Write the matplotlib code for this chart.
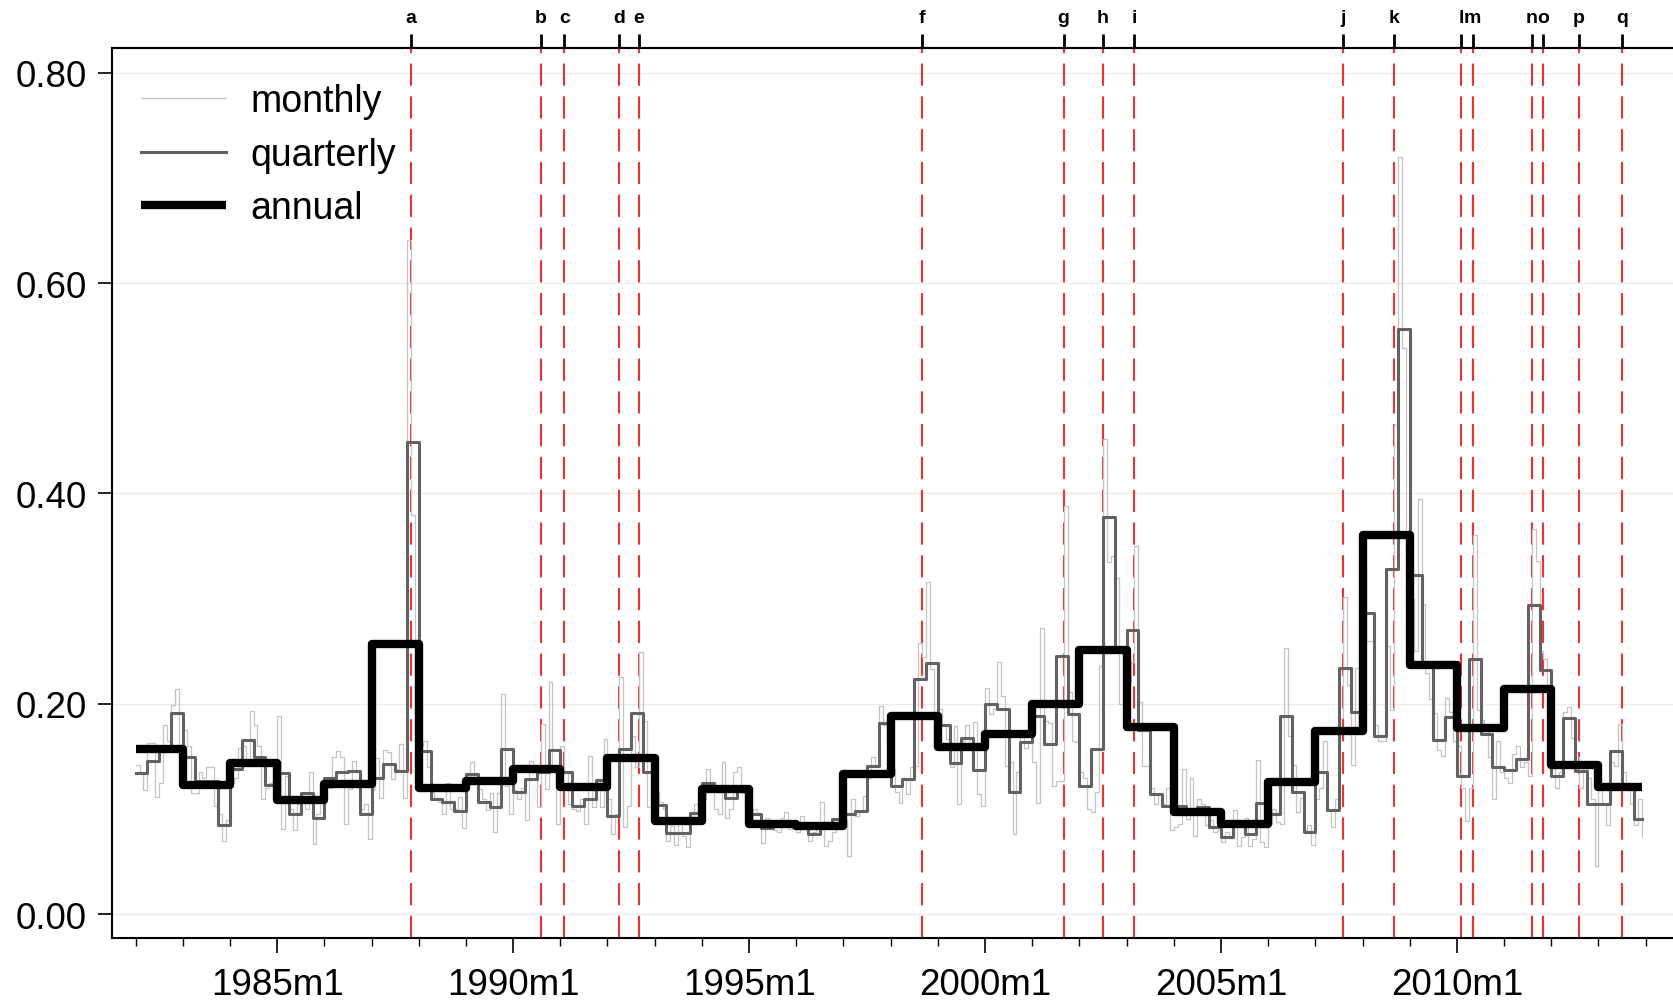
import numpy as np
import matplotlib
matplotlib.use("Agg")
import matplotlib.pyplot as plt

plt.rcParams['font.family'] = ['Liberation Sans', 'DejaVu Sans']

# ---------------- data ----------------
start_year = 1982

annual = [0.157, 0.123, 0.144, 0.109, 0.124, 0.257, 0.120, 0.127, 0.138, 0.121,
          0.149, 0.089, 0.119, 0.086, 0.084, 0.133, 0.189, 0.159, 0.171, 0.200,
          0.251, 0.178, 0.097, 0.086, 0.126, 0.174, 0.361, 0.237, 0.177, 0.214,
          0.142, 0.121]

quarterly = [
    0.134, 0.146, 0.157, 0.191,   # 1982
    0.150, 0.127, 0.127, 0.085,   # 1983
    0.138, 0.166, 0.150, 0.123,   # 1984
    0.134, 0.095, 0.115, 0.092,   # 1985
    0.130, 0.135, 0.136, 0.095,   # 1986
    0.130, 0.143, 0.136, 0.449,   # 1987
    0.155, 0.110, 0.107, 0.098,   # 1988
    0.133, 0.107, 0.102, 0.157,   # 1989
    0.116, 0.129, 0.135, 0.156,   # 1990
    0.135, 0.103, 0.110, 0.128,   # 1991
    0.094, 0.157, 0.191, 0.135,   # 1992
    0.104, 0.077, 0.077, 0.096,   # 1993
    0.125, 0.120, 0.111, 0.120,   # 1994
    0.095, 0.082, 0.086, 0.087,   # 1995
    0.084, 0.076, 0.084, 0.091,   # 1996
    0.095, 0.098, 0.141, 0.182,   # 1997
    0.122, 0.129, 0.224, 0.239,   # 1998
    0.180, 0.144, 0.168, 0.137,   # 1999
    0.200, 0.195, 0.116, 0.164,   # 2000
    0.189, 0.162, 0.246, 0.190,   # 2001
    0.122, 0.157, 0.378, 0.250,   # 2002
    0.270, 0.175, 0.114, 0.103,   # 2003
    0.103, 0.099, 0.102, 0.083,   # 2004
    0.074, 0.085, 0.076, 0.106,   # 2005
    0.095, 0.189, 0.116, 0.078,   # 2006
    0.135, 0.099, 0.234, 0.192,   # 2007
    0.286, 0.170, 0.328, 0.556,   # 2008
    0.323, 0.236, 0.166, 0.188,   # 2009
    0.132, 0.243, 0.171, 0.140,   # 2010
    0.137, 0.148, 0.294, 0.232,   # 2011
    0.132, 0.187, 0.136, 0.105,   # 2012
    0.105, 0.155, 0.122, 0.091,   # 2013
]

monthly = [
    0.142, 0.135, 0.118, 0.163, 0.163, 0.112, 0.125, 0.180, 0.165, 0.199, 0.214, 0.160,  # 1982
    0.175, 0.160, 0.115, 0.115, 0.135, 0.130, 0.140, 0.140, 0.103, 0.095, 0.070, 0.090,  # 1983
    0.125, 0.130, 0.158, 0.160, 0.145, 0.193, 0.180, 0.160, 0.110, 0.120, 0.125, 0.125,  # 1984
    0.189, 0.081, 0.132, 0.100, 0.080, 0.105, 0.110, 0.100, 0.135, 0.067, 0.095, 0.110,  # 1985
    0.120, 0.120, 0.150, 0.155, 0.150, 0.086, 0.119, 0.146, 0.135, 0.100, 0.105, 0.072,  # 1986
    0.119, 0.149, 0.111, 0.156, 0.154, 0.129, 0.138, 0.162, 0.111, 0.641, 0.380, 0.190,  # 1987
    0.160, 0.165, 0.140, 0.116, 0.110, 0.107, 0.095, 0.125, 0.100, 0.100, 0.112, 0.082,  # 1988
    0.130, 0.145, 0.125, 0.119, 0.110, 0.099, 0.115, 0.078, 0.115, 0.209, 0.122, 0.095,  # 1989
    0.118, 0.110, 0.120, 0.090, 0.146, 0.135, 0.102, 0.181, 0.119, 0.221, 0.135, 0.086,  # 1990
    0.160, 0.135, 0.105, 0.100, 0.098, 0.110, 0.086, 0.151, 0.102, 0.129, 0.102, 0.167,  # 1991
    0.110, 0.076, 0.095, 0.226, 0.083, 0.103, 0.170, 0.140, 0.249, 0.184, 0.102, 0.116,  # 1992
    0.116, 0.107, 0.100, 0.070, 0.084, 0.066, 0.088, 0.075, 0.064, 0.090, 0.105, 0.090,  # 1993
    0.110, 0.138, 0.125, 0.100, 0.095, 0.145, 0.092, 0.100, 0.135, 0.140, 0.115, 0.100,  # 1994
    0.090, 0.100, 0.095, 0.068, 0.092, 0.085, 0.080, 0.078, 0.092, 0.097, 0.081, 0.086,  # 1995
    0.078, 0.094, 0.081, 0.070, 0.078, 0.081, 0.107, 0.065, 0.070, 0.078, 0.086, 0.097,  # 1996
    0.090, 0.056, 0.110, 0.094, 0.097, 0.113, 0.130, 0.150, 0.140, 0.198, 0.180, 0.165,  # 1997
    0.138, 0.116, 0.106, 0.129, 0.114, 0.140, 0.141, 0.258, 0.245, 0.316, 0.233, 0.160,  # 1998
    0.195, 0.181, 0.167, 0.140, 0.179, 0.105, 0.165, 0.180, 0.160, 0.183, 0.114, 0.103,  # 1999
    0.215, 0.190, 0.195, 0.240, 0.208, 0.141, 0.145, 0.076, 0.135, 0.170, 0.158, 0.165,  # 2000
    0.145, 0.106, 0.272, 0.184, 0.182, 0.122, 0.127, 0.127, 0.388, 0.211, 0.165, 0.164,  # 2001
    0.135, 0.130, 0.100, 0.097, 0.116, 0.236, 0.452, 0.335, 0.341, 0.320, 0.200, 0.200,  # 2002
    0.220, 0.240, 0.350, 0.202, 0.141, 0.141, 0.120, 0.105, 0.115, 0.105, 0.120, 0.080,  # 2003
    0.083, 0.086, 0.138, 0.091, 0.130, 0.075, 0.110, 0.105, 0.085, 0.090, 0.078, 0.080,  # 2004
    0.069, 0.078, 0.073, 0.099, 0.065, 0.074, 0.092, 0.065, 0.072, 0.147, 0.069, 0.064,  # 2005
    0.086, 0.100, 0.088, 0.086, 0.253, 0.170, 0.142, 0.097, 0.111, 0.080, 0.085, 0.066,  # 2006
    0.110, 0.120, 0.165, 0.100, 0.083, 0.110, 0.187, 0.302, 0.218, 0.142, 0.234, 0.180,  # 2007
    0.330, 0.260, 0.260, 0.180, 0.165, 0.165, 0.255, 0.194, 0.465, 0.720, 0.538, 0.350,  # 2008
    0.300, 0.250, 0.395, 0.295, 0.229, 0.205, 0.191, 0.156, 0.151, 0.206, 0.192, 0.165,  # 2009
    0.160, 0.120, 0.089, 0.120, 0.361, 0.194, 0.185, 0.175, 0.150, 0.110, 0.165, 0.135,  # 2010
    0.130, 0.125, 0.152, 0.160, 0.140, 0.145, 0.132, 0.366, 0.336, 0.250, 0.243, 0.217,  # 2011
    0.140, 0.120, 0.135, 0.192, 0.197, 0.168, 0.150, 0.120, 0.140, 0.130, 0.110, 0.046,  # 2012
    0.120, 0.105, 0.085, 0.145, 0.141, 0.181, 0.135, 0.125, 0.105, 0.085, 0.110, 0.075,  # 2013
]

event_labels = ["a", "b", "c", "d", "e", "f", "g", "h", "i",
                "j", "k", "l", "m", "n", "o", "p", "q"]
event_dates = ["1987m11", "1990m8", "1991m2", "1992m4", "1992m9", "1998m9",
               "2001m9", "2002m7", "2003m3", "2007m8", "2008m9", "2010m2",
               "2010m5", "2011m8", "2011m11", "2012m8", "2013m7"]

xtick_labels = ["1985m1", "1990m1", "1995m1", "2000m1", "2005m1", "2010m1"]
ytick_values = [0.0, 0.2, 0.4, 0.6, 0.8]
series_labels = ["monthly", "quarterly", "annual"]


def ym(s):
    y, m = s.split("m")
    return int(y) + (int(m) - 1) / 12.0


# monthly time axis; quarterly / annual values held over their months
t = start_year + np.arange(len(monthly)) / 12.0
q_on_months = np.repeat(quarterly, 3)
a_on_months = np.repeat(annual, 12)

# ---------------- figure ----------------
fig = plt.figure(figsize=(16.74, 10.03), dpi=100)
ax = fig.add_axes([0.0669, 0.0638, 0.9331, 0.887])

ax.set_xlim(1981.5, 2014.6)
ax.set_ylim(-0.0224, 0.823)

# grid
ax.set_yticks(ytick_values)
ax.yaxis.grid(True, color="#ececec", linewidth=1.0)
ax.set_axisbelow(True)

# event lines
lw_red = 1.2
for d in event_dates:
    ax.axvline(ym(d), color="#ff0000", linewidth=lw_red,
               linestyle=(0, (16.0 / lw_red, 7.6 / lw_red)), zorder=1.5)

# series
l_m, = ax.step(t, monthly, where="post", color="#c4c4c4", linewidth=0.9,
               zorder=2, label=series_labels[0])
l_q, = ax.step(t, q_on_months, where="post", color="#626262", linewidth=2.2,
               zorder=3, label=series_labels[1])
l_a, = ax.step(t, a_on_months, where="post", color="#000000", linewidth=6.0,
               zorder=4, label=series_labels[2], solid_joinstyle="round",
               solid_capstyle="butt")

# axes styling
ax.spines["right"].set_visible(False)
for s in ["left", "bottom", "top"]:
    ax.spines[s].set_linewidth(1.5)

ax.set_xticks([ym(l) for l in xtick_labels])
ax.set_xticklabels(xtick_labels)
ax.set_xticks(np.arange(1982, 2015), minor=True)
ax.tick_params(axis="x", which="major", length=11, width=1.2, pad=10,
               labelsize=26.5, direction="out")
ax.tick_params(axis="x", which="minor", length=6, width=1.0, direction="out")
ax.set_yticklabels([f"{v:.2f}" for v in ytick_values])
ax.tick_params(axis="y", which="major", length=10, width=1.2, pad=8,
               labelsize=26.5, direction="out")

# top event axis
top = ax.secondary_xaxis("top")
top.set_xticks([ym(d) for d in event_dates])
top.set_xticklabels(event_labels)
top.tick_params(axis="x", length=10, width=2.0, pad=6, labelsize=14,
                direction="out")
for lbl in top.get_xticklabels():
    lbl.set_fontweight("bold")
top.spines["top"].set_linewidth(1.5)

# legend
leg = ax.legend(handles=[l_m, l_q, l_a], loc="upper left",
                bbox_to_anchor=(0.014, 0.969), frameon=False, fontsize=27,
                handlelength=2.27, handletextpad=0.65, labelspacing=0.46,
                borderpad=0.2, borderaxespad=0.0)

fig.savefig("out.png", dpi=100)
